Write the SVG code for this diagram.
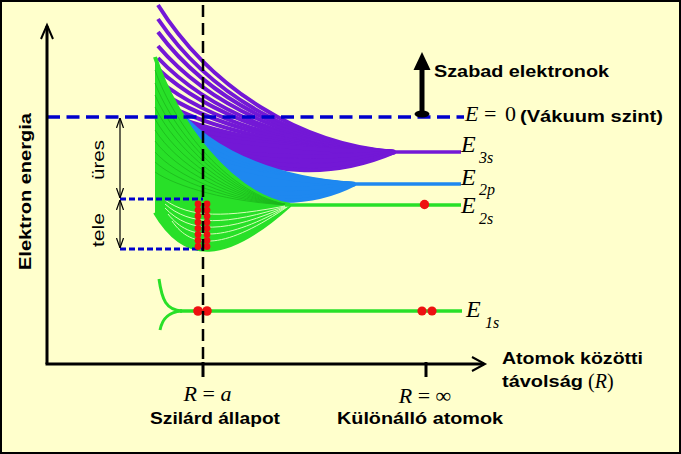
<svg xmlns="http://www.w3.org/2000/svg" width="681" height="454" viewBox="0 0 681 454">
<defs>
<style>
.p{fill:none;stroke:#7318d6;stroke-width:4}
.b{fill:none;stroke:#1e88f0;stroke-width:4}
.g{fill:none;stroke:#28e028;stroke-width:4}
.gd{fill:none;stroke:#1cb81c;stroke-width:0.8}
.gl{fill:none;stroke:#d8ffb8;stroke-width:1}
.lvl{fill:none;stroke-width:3.5}
.dot{fill:#ee1111}
.ax{fill:none;stroke:#000;stroke-width:3}
.sans{font-family:"Liberation Sans",Arial,sans-serif;font-size:17px;fill:#000}
.bold{font-weight:bold}
.serif{font-family:"Liberation Serif","Times New Roman",serif;fill:#000}
.it{font-style:italic}
.E{font-size:24px}
.sub{font-size:16px}
</style>
<marker id="v" viewBox="0 0 10 8" refX="10" refY="4" markerWidth="10" markerHeight="8" markerUnits="userSpaceOnUse" orient="auto-start-reverse">
<path d="M0,0.5 L10,4 L0,7.5" fill="none" stroke="#000" stroke-width="1.2"/>
</marker>
</defs>
<rect x="1" y="1" width="679" height="452" fill="#ffffcc" stroke="#000" stroke-width="2"/>

<g id="band-3s">
<path fill="#7318d6" d="M158,109 C210,134 300,150 395,152 C335,178 265,178 205,141 Z"/>
<path class="p" d="M158,5 C210,88 300,145 395,152"/>
<path class="p" d="M158,19 C210,96 300,146 395,152"/>
<path class="p" d="M158,32 C210,102 300,146 395,152"/>
<path class="p" d="M158,46 C210,107 300,147 395,152"/>
<path class="p" d="M158,58 C210,113 300,148 395,152"/>
<path class="p" d="M158,69 C210,117 300,148 395,152"/>
<path class="p" d="M158,80 C210,122 300,149 395,152"/>
<path class="p" d="M158,90 C210,126 300,149 395,152"/>
<path class="p" d="M158,100 C210,130 300,150 395,152"/>
<path class="p" d="M158,109 C210,134 300,150 395,152"/>
<path class="p" d="M158,118 C210,138 300,150 395,152"/>
<path class="p" d="M158,126 C210,141 300,151 395,152"/>
<path class="p" d="M395,152 C335,158 265,158 205,149"/>
<path class="p" d="M395,152 C335,165 265,165 205,146"/>
<path class="p" d="M395,152 C335,172 265,172 205,143"/>
<path class="p" d="M395,152 C335,178 265,178 205,141"/>
<line x1="390" y1="152" x2="461" y2="152" stroke="#7318d6" class="lvl"/>
</g>

<g id="band-2p">
<path fill="#1e88f0" d="M160,80 C185,140 260,178 355,184 C310,207.4 250,207.4 200,178.6 L160,180 Z"/>
<path class="b" d="M160,80 C185,140 260,178 355,184"/>
<path class="b" d="M160,92 C185,145 260,178.7 355,184"/>
<path class="b" d="M160,104 C185,150 260,179.4 355,184"/>
<path class="b" d="M160,115 C185,155 260,180 355,184"/>
<path class="b" d="M160,126 C185,159.5 260,180.6 355,184"/>
<path class="b" d="M355,184 C310,190.5 250,190.5 200,182.5"/>
<path class="b" d="M355,184 C310,197 250,197 200,181"/>
<path class="b" d="M355,184 C310,207.4 250,207.4 200,178.6"/>
<line x1="350" y1="184" x2="461" y2="184" stroke="#1e88f0" class="lvl"/>
</g>

<g id="band-2s">
<path fill="#28e028" d="M155,57 C175,120 230,195 290,205 C225,263.5 185,263.5 155,212.5 Z"/>
<path class="g" d="M155,57 C175,120 230,195 290,205"/>
<path class="g" d="M155,212.5 C185,263.5 225,263.5 290,205"/>
<path class="gd" d="M155,70 C175,127.5 230,195.8 290,205"/>
<path class="gd" d="M155,83 C175,135 230,196.7 290,205"/>
<path class="gd" d="M155,95 C175,141.9 230,197.5 290,205"/>
<path class="gd" d="M155,107 C175,148.7 230,198.3 290,205"/>
<path class="gd" d="M155,119 C175,155.6 230,199.2 290,205"/>
<path class="gd" d="M155,130 C175,162 230,199.9 290,205"/>
<path class="gd" d="M155,141 C175,168.3 230,200.6 290,205"/>
<path class="gd" d="M155,152 C175,174.6 230,201.4 290,205"/>
<path class="gd" d="M155,162 C175,180.3 230,202.1 290,205"/>
<path class="gd" d="M155,172 C175,186.1 230,202.8 290,205"/>
<path class="gl" d="M165,200 C190,218 225,218 290,205"/>
<path class="gl" d="M165,204 C190,226 225,226 290,205"/>
<path class="gl" d="M165,208 C190,234 225,234 290,205"/>
<path class="gl" d="M168,214 C190,242 225,242 290,205"/>
<path class="gl" d="M172,221 C192,250 225,250 290,205"/>
<line x1="285" y1="205" x2="461" y2="205" stroke="#28e028" class="lvl"/>
</g>

<g id="level-1s">
<path class="g" style="stroke-width:3" d="M159,279 C162,300 166,310 182,311"/>
<path class="g" style="stroke-width:3" d="M160,330 C162,320 167,312 182,311"/>
<line x1="180" y1="311" x2="462" y2="311" stroke="#28e028" class="lvl"/>
</g>

<g id="guides">
<line x1="47" y1="117" x2="464" y2="117" stroke="#0000cc" stroke-width="3.5" stroke-dasharray="13 6.5"/>
<line x1="120" y1="199" x2="203" y2="199" stroke="#0000cc" stroke-width="3" stroke-dasharray="6 3"/>
<line x1="120" y1="249" x2="203" y2="249" stroke="#0000cc" stroke-width="3" stroke-dasharray="6 3"/>
<line x1="120" y1="118" x2="120" y2="198" stroke="#000" stroke-width="1.2" marker-start="url(#v)" marker-end="url(#v)"/>
<line x1="120" y1="200" x2="120" y2="248" stroke="#000" stroke-width="1.2" marker-start="url(#v)" marker-end="url(#v)"/>
</g>

<g id="electrons">
<circle class="dot" cx="198" cy="204" r="3.4"/><circle class="dot" cx="207" cy="204" r="3.4"/>
<circle class="dot" cx="198" cy="210.1" r="3.4"/><circle class="dot" cx="207" cy="210.1" r="3.4"/>
<circle class="dot" cx="198" cy="216.1" r="3.4"/><circle class="dot" cx="207" cy="216.1" r="3.4"/>
<circle class="dot" cx="198" cy="222.2" r="3.4"/><circle class="dot" cx="207" cy="222.2" r="3.4"/>
<circle class="dot" cx="198" cy="228.3" r="3.4"/><circle class="dot" cx="207" cy="228.3" r="3.4"/>
<circle class="dot" cx="198" cy="234.4" r="3.4"/><circle class="dot" cx="207" cy="234.4" r="3.4"/>
<circle class="dot" cx="198" cy="240.4" r="3.4"/><circle class="dot" cx="207" cy="240.4" r="3.4"/>
<circle class="dot" cx="198" cy="246.5" r="3.4"/><circle class="dot" cx="207" cy="246.5" r="3.4"/>
<circle class="dot" cx="198" cy="311" r="4.8"/><circle class="dot" cx="207" cy="311" r="4.8"/>
<circle class="dot" cx="422" cy="311" r="4.6"/><circle class="dot" cx="432" cy="311" r="4.6"/>
<circle class="dot" cx="424.5" cy="204.5" r="4.7"/>
</g>

<g id="connectors">
<line x1="203" y1="5" x2="203" y2="364" stroke="#000" stroke-width="2.5" stroke-dasharray="12 6"/>
<line x1="203" y1="362" x2="203" y2="377" class="ax"/>
<line x1="426" y1="362" x2="426" y2="377" class="ax"/>
<line x1="47" y1="364" x2="47" y2="26" class="ax"/>
<path d="M41,39 L47,25 L53,39" fill="none" stroke="#000" stroke-width="2"/>
<line x1="45.5" y1="364" x2="484" y2="364" class="ax"/>
<path d="M472,357 L485,364 L472,371" fill="none" stroke="#000" stroke-width="2"/>
<line x1="422" y1="113" x2="422" y2="66" stroke="#000" stroke-width="5"/>
<polygon points="422,52 413.5,70 430.5,70" fill="#000"/>
<ellipse cx="422" cy="114" rx="7.5" ry="3.5" fill="#000"/>
</g>

<g id="labels">
<text class="sans bold" x="434" y="77" textLength="175" lengthAdjust="spacingAndGlyphs">Szabad elektronok</text>
<text class="serif it" x="465" y="121" font-size="22">E</text>
<text class="serif" x="484" y="121" font-size="22">=</text>
<text class="serif" x="505" y="121" font-size="22">0</text>
<text class="sans bold" x="520" y="122" textLength="143" lengthAdjust="spacingAndGlyphs">(Vákuum szint)</text>
<text class="serif it E" x="461" y="152">E</text>
<text class="serif it sub" x="479" y="163">3s</text>
<text class="serif it E" x="461" y="185">E</text>
<text class="serif it sub" x="479" y="195">2p</text>
<text class="serif it E" x="461" y="213">E</text>
<text class="serif it sub" x="479" y="224">2s</text>
<text class="serif it E" x="466" y="317">E</text>
<text class="serif it sub" x="485" y="328">1s</text>
<text class="sans bold" transform="translate(31,191.5) rotate(-90)" text-anchor="middle" textLength="157" lengthAdjust="spacingAndGlyphs">Elektron energia</text>
<text class="sans" transform="translate(104,160) rotate(-90)" text-anchor="middle" font-size="18" textLength="40" lengthAdjust="spacingAndGlyphs">üres</text>
<text class="sans" transform="translate(104,230) rotate(-90)" text-anchor="middle" font-size="18" textLength="34" lengthAdjust="spacingAndGlyphs">tele</text>
<text class="serif" x="207.5" y="401" font-size="22" text-anchor="middle"><tspan font-style="italic">R</tspan> = <tspan font-style="italic">a</tspan></text>
<text class="serif" x="425" y="403" font-size="22" text-anchor="middle"><tspan font-style="italic">R</tspan> = ∞</text>
<text class="sans bold" x="150" y="424" textLength="130" lengthAdjust="spacingAndGlyphs">Szilárd állapot</text>
<text class="sans bold" x="337" y="424" textLength="166" lengthAdjust="spacingAndGlyphs">Különálló atomok</text>
<text class="sans bold" x="502" y="364" textLength="141" lengthAdjust="spacingAndGlyphs">Atomok közötti</text>
<text class="sans bold" x="502" y="387" textLength="81" lengthAdjust="spacingAndGlyphs">távolság</text>
<text class="serif" x="588" y="388" font-size="20">(<tspan font-style="italic">R</tspan>)</text>
</g>
</svg>
